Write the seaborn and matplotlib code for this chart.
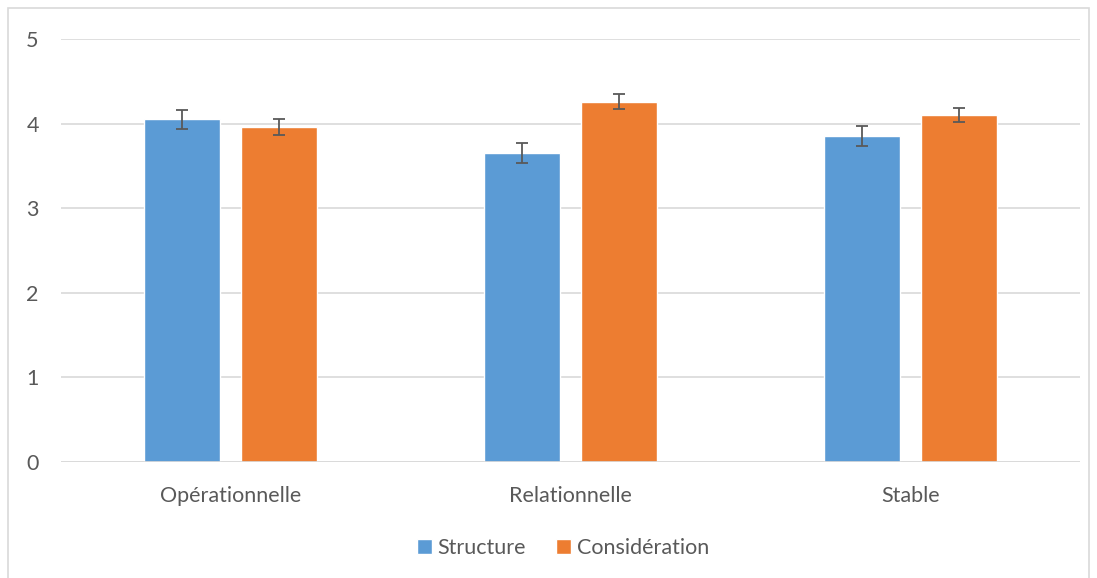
import matplotlib
matplotlib.use("Agg")
import matplotlib.pyplot as plt
import seaborn as sns
import pandas as pd
from matplotlib.patches import Rectangle

categories = ["Opérationnelle", "Relationnelle", "Stable"]
series = ["Structure", "Considération"]
structure_vals = [4.05, 3.65, 3.85]
consideration_vals = [3.96, 4.26, 4.10]
structure_err = [0.11, 0.12, 0.12]
consideration_err = [0.09, 0.09, 0.085]
yticks = [0, 1, 2, 3, 4, 5]
colors = ["#5B9BD5", "#ED7D31"]

df = pd.DataFrame({
    "cat": categories * 2,
    "serie": [series[0]] * 3 + [series[1]] * 3,
    "val": structure_vals + consideration_vals,
    "err": structure_err + consideration_err,
})

sns.set_style("white")
plt.rcParams["font.family"] = ["Lato", "DejaVu Sans"]
text_color = "#595959"
fs = 15.5

fig = plt.figure(figsize=(10.97, 5.78), dpi=100)
ax = fig.add_axes([61/1097, 1-462/578, (1080-61)/1097, (462-39)/578])

sns.barplot(data=df, x="cat", y="val", hue="serie", order=categories,
            hue_order=series, palette=colors, width=0.571, gap=0.216,
            saturation=1, errorbar=None, ax=ax, legend=True)

# error bars on bar centres
for cont, s in zip(ax.containers, series):
    errs = df[df["serie"] == s]["err"].tolist()
    vals = df[df["serie"] == s]["val"].tolist()
    xs = [p.get_x() + p.get_width() / 2 for p in cont.patches]
    ax.errorbar(xs, vals, yerr=errs, fmt="none", ecolor=text_color,
                elinewidth=1.3, capsize=4.5, capthick=1.3, zorder=5)

ax.set_ylim(0, 5)
ax.set_xlim(-0.5, 2.5)
ax.set_yticks(yticks)
ax.yaxis.grid(True, color="#d9d9d9", linewidth=1.2)
ax.set_axisbelow(True)
for sp in ax.spines.values():
    sp.set_visible(False)
ax.axhline(0, color="#d9d9d9", linewidth=1.2, zorder=1)
ax.tick_params(axis="both", length=0, labelsize=fs, colors=text_color)
ax.tick_params(axis="x", pad=17)
ax.tick_params(axis="y", pad=16)
ax.set_xlabel("")
ax.set_ylabel("")

leg = ax.legend(loc="center", bbox_to_anchor=(563/1097, 1-548/578),
                bbox_transform=fig.transFigure, ncol=2, frameon=False,
                fontsize=fs, handlelength=0.7, handleheight=0.7,
                handletextpad=0.25, columnspacing=1.4)
for t in leg.get_texts():
    t.set_color(text_color)

fig.patches.append(Rectangle((8/1097, -0.01), (1089-8)/1097, 1.01-8/578,
                             transform=fig.transFigure, fill=False,
                             edgecolor="#d9d9d9", linewidth=1.2))

fig.savefig("out.png", dpi=100)
